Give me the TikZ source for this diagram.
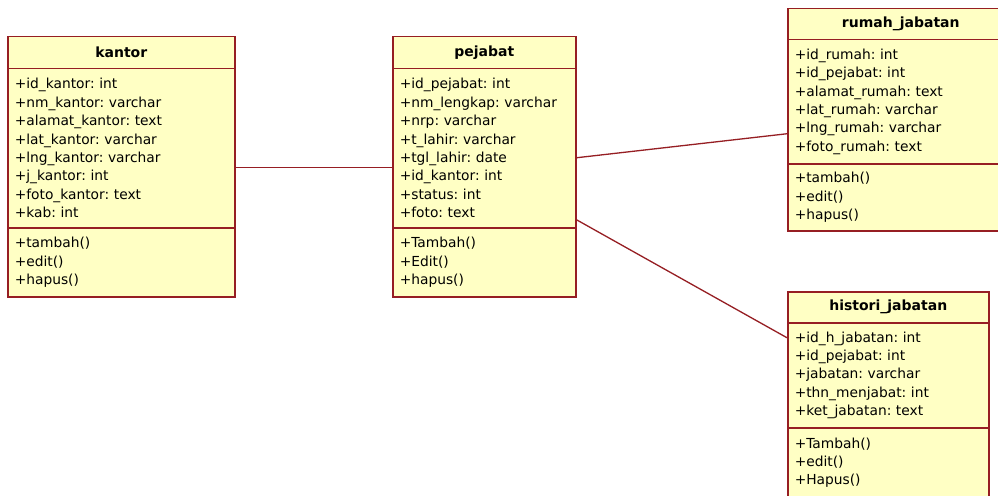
\documentclass[tikz,border=0pt]{standalone}
\usepackage{fontspec}
\setmainfont{DejaVu Sans}
\frenchspacing
\definecolor{umlborder}{RGB}{150,30,35}
\definecolor{umlfill}{RGB}{255,255,196}
\tikzset{
  classpart/.style={draw=umlborder, fill=umlfill, line width=1.5pt, rectangle,
    inner sep=0pt, anchor=north west},
  headpart/.style={classpart, align=center,
    font=\fontsize{14}{16}\selectfont\bfseries},
  listpart/.style={classpart, align=left, inner xsep=7pt,
    font=\fontsize{13.8}{18.4}\selectfont},
  link/.style={draw=umlborder, line width=1.3pt}
}
\begin{document}
\begin{tikzpicture}[x=1pt,y=-1pt]
  \useasboundingbox (0,0) rectangle (998,495);
  \fill[white] (0,0) rectangle (998,495);

  % class kantor
  \node[headpart, minimum width=227, minimum height=32] (kantorH) at (7,36) {kantor};
  \node[listpart, minimum width=227, minimum height=159, text width=213] (kantorA) at (7,68)
    {+id\_kantor: int\\+nm\_kantor: varchar\\+alamat\_kantor: text\\+lat\_kantor: varchar\\
     +lng\_kantor: varchar\\+j\_kantor: int\\+foto\_kantor: text\\+kab: int};
  \node[listpart, minimum width=227, minimum height=69, text width=213] (kantorM) at (7,227)
    {+tambah()\\+edit()\\+hapus()};

  % class pejabat
  \node[headpart, minimum width=183, minimum height=32] (pejabatH) at (392,36) {pejabat};
  \node[listpart, minimum width=183, minimum height=159, text width=169] (pejabatA) at (392,68)
    {+id\_pejabat: int\\+nm\_lengkap: varchar\\+nrp: varchar\\+t\_lahir: varchar\\
     +tgl\_lahir: date\\+id\_kantor: int\\+status: int\\+foto: text};
  \node[listpart, minimum width=183, minimum height=69, text width=169] (pejabatM) at (392,227)
    {+Tambah()\\+Edit()\\+hapus()};

  % class rumah_jabatan
  \node[headpart, minimum width=226, minimum height=31] (rumahH) at (787,8) {rumah\_jabatan};
  \node[listpart, minimum width=226, minimum height=124, text width=212] (rumahA) at (787,39)
    {+id\_rumah: int\\+id\_pejabat: int\\+alamat\_rumah: text\\+lat\_rumah: varchar\\
     +lng\_rumah: varchar\\+foto\_rumah: text};
  \node[listpart, minimum width=226, minimum height=67, text width=212] (rumahM) at (787,163)
    {+tambah()\\+edit()\\+hapus()};

  % class histori_jabatan
  \node[headpart, minimum width=201, minimum height=31] (historiH) at (787,291) {histori\_jabatan};
  \node[listpart, minimum width=201, minimum height=105, text width=187] (historiA) at (787,322)
    {+id\_h\_jabatan: int\\+id\_pejabat: int\\+jabatan: varchar\\+thn\_menjabat: int\\
     +ket\_jabatan: text};
  \node[listpart, minimum width=201, minimum height=70, text width=187] (historiM) at (787,427)
    {+Tambah()\\+edit()\\+Hapus()};

  % associations
  \draw[link] ([yshift=-19.5pt]kantorA.east) -- ([yshift=-19.5pt]pejabatA.west);
  \draw[link] ([yshift=-9.5pt]pejabatA.east) -- ([yshift=-32pt]rumahA.west);
  \draw[link] ([yshift=-71.5pt]pejabatA.east) -- ([yshift=37.5pt]historiA.west);
\end{tikzpicture}
\end{document}
